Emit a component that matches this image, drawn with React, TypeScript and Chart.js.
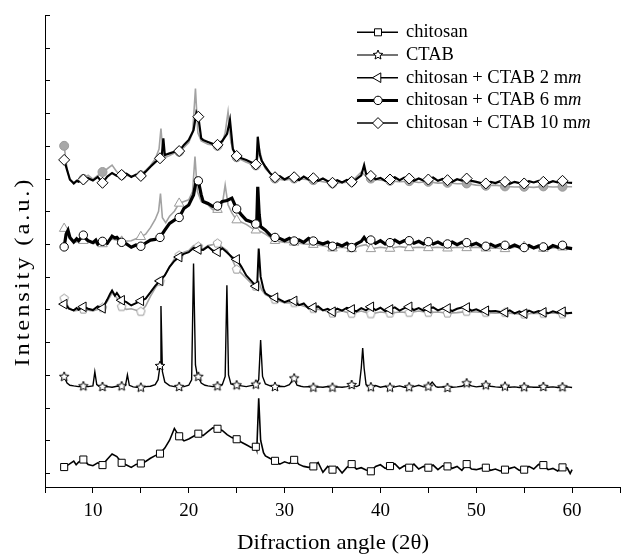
import React, { useEffect, useRef } from 'react';
import { Chart, registerables } from 'chart.js';

Chart.register(...registerables);

// ---- data: [2θ, intensity (offset, a.u.)] ----
const chitosanPts: [number, number][] = [
  [7,0.18],[7.5,0.26],[8,0.36],[8.25,0.25],[8.5,0.33],[9,0.41],[9.5,0.26],[10,0.22],[10.5,0.31],[11,0.24],[11.5,0.42],[12,0.58],[12.5,0.5],[13,0.31],[13.5,0.24],[14,0.17],[14.5,0.26],[15,0.29],[15.5,0.35],[16,0.45],[16.5,0.53],[17,0.59],[17.5,0.76],[18,1.0],[18.5,1.36],[19,1.12],[19.5,0.98],[20,1.04],[20.5,1.12],[21,1.2],[21.5,1.14],[22,1.26],[22.5,1.38],[23,1.35],[23.5,1.3],[24,1.17],[24.5,1.08],[25,1.03],[25.5,0.94],[26,0.86],[26.5,0.78],[27,0.8],[27.1,0.7],[27.3,2.28],[27.5,1.0],[27.8,0.62],[28,0.52],[28.5,0.44],[29,0.37],[29.5,0.27],[30,0.34],[30.5,0.29],[31,0.4],[31.5,0.26],[32,0.2],[32.5,0.17],[33,0.2],[33.5,0.32],[34,0.02],[34.5,0.2],[35,0.1],[35.5,0.18],[36,0.0],[36.5,0.17],[37,0.27],[37.5,0.12],[38,0.16],[38.5,0.09],[39,0.05],[39.5,0.2],[40,0.25],[40.5,0.14],[41,0.21],[41.5,0.28],[42,0.13],[42.5,0.22],[43,0.16],[43.5,0.27],[44,0.12],[44.5,0.2],[45,0.16],[45.5,0.24],[46,0.1],[46.5,0.22],[47,0.2],[47.5,0.14],[48,0.2],[48.5,0.08],[49,0.27],[49.5,0.12],[50,0.1],[50.5,0.14],[51,0.16],[51.5,0.08],[52,0.12],[52.5,0.06],[53,0.1],[53.5,0.14],[54,0.18],[54.5,0.08],[55,0.1],[55.5,0.2],[56,0.12],[56.5,0.26],[57,0.24],[57.5,0.1],[58,0.14],[58.5,0.06],[59,0.17],[59.5,0.15],[59.8,-0.02],[60,0.1]
];

const ctabPts: [number, number][] = [
  [7,2.94],[7.3,2.75],[7.6,2.68],[8,2.66],[8.5,2.64],[9,2.65],[9.5,2.64],[10,2.66],[10.2,3.09],[10.4,2.7],[10.7,2.64],[11,2.63],[11.5,2.64],[12,2.62],[12.5,2.65],[13,2.65],[13.4,2.68],[13.6,3.0],[13.8,2.68],[14.2,2.63],[14.6,2.62],[15,2.61],[15.5,2.64],[16,2.65],[16.5,2.7],[16.8,2.85],[17,3.27],[17.1,5.1],[17.25,3.1],[17.5,2.78],[18,2.67],[18.5,2.64],[19,2.63],[19.5,2.64],[20,2.68],[20.3,2.85],[20.5,6.4],[20.7,3.3],[20.85,3.05],[21,2.94],[21.3,2.75],[21.7,2.68],[22,2.66],[22.5,2.64],[23,2.65],[23.5,2.7],[23.8,2.95],[23.98,5.74],[24.15,3.0],[24.4,2.72],[25,2.68],[25.5,2.66],[26,2.64],[26.5,2.67],[27,2.7],[27.3,2.85],[27.5,4.06],[27.7,2.95],[28,2.72],[28.5,2.66],[29,2.63],[29.5,2.65],[30,2.64],[30.5,2.7],[31,2.89],[31.3,2.68],[31.7,2.65],[32,2.63],[32.5,2.64],[33,2.61],[33.5,2.63],[34,2.62],[34.5,2.64],[35,2.61],[35.5,2.63],[36,2.62],[36.5,2.64],[37,2.69],[37.5,2.64],[37.8,2.68],[38,3.2],[38.15,3.82],[38.3,3.2],[38.5,2.7],[38.8,2.64],[39,2.62],[39.5,2.67],[40,2.62],[40.5,2.65],[41,2.61],[41.5,2.63],[42,2.66],[42.5,2.62],[43,2.62],[43.5,2.64],[44,2.68],[44.5,2.63],[45,2.64],[45.4,2.78],[45.8,2.64],[46,2.62],[46.5,2.63],[47,2.6],[47.5,2.62],[48,2.63],[48.5,2.65],[49,2.74],[49.5,2.66],[50,2.63],[50.5,2.65],[51,2.68],[51.5,2.65],[52,2.63],[52.5,2.62],[53,2.64],[53.5,2.62],[54,2.63],[54.5,2.61],[55,2.62],[55.5,2.63],[56,2.62],[56.5,2.62],[57,2.63],[57.5,2.62],[58,2.63],[58.5,2.61],[59,2.62],[59.5,2.63],[60,2.61]
];

const ct2Pts: [number, number][] = [
  [7,5.16],[7.3,5.1],[7.5,5.02],[8,4.97],[8.3,5.04],[8.5,4.99],[9,5.08],[9.5,5.02],[10,4.98],[10.5,5.09],[11,5.03],[11.5,5.3],[11.8,5.48],[12,5.58],[12.3,5.42],[12.5,5.5],[13,5.28],[13.5,5.22],[14,5.12],[14.5,5.19],[15,5.26],[15.5,5.33],[16,5.52],[16.5,5.72],[17,5.87],[17.5,6.04],[18,6.3],[18.5,6.48],[19,6.6],[19.5,6.7],[20,6.75],[20.5,6.88],[21,6.83],[21.5,6.82],[22,6.92],[22.5,6.8],[23,6.76],[23.5,6.87],[24,6.74],[24.5,6.6],[25,6.53],[25.5,6.3],[26,6.04],[26.5,5.88],[27,5.71],[27.15,5.8],[27.3,6.86],[27.5,6.0],[27.8,5.62],[28,5.49],[28.5,5.4],[29,5.36],[29.5,5.3],[30,5.22],[30.5,5.28],[31,5.26],[31.5,5.13],[32,5.18],[32.5,5.03],[33,5.06],[33.5,5.09],[34,4.97],[34.5,5.02],[35,4.93],[35.5,5.02],[36,4.96],[36.5,5.05],[37,5.0],[37.5,4.94],[38,5.04],[38.5,4.97],[39,5.08],[39.5,4.98],[40,5.05],[40.5,4.95],[41,5.0],[41.5,5.06],[42,4.96],[42.5,5.04],[43,5.08],[43.5,4.98],[44,5.04],[44.5,4.96],[45,5.03],[45.5,5.06],[46,4.97],[46.5,5.03],[47,5.03],[47.5,4.95],[48,5.02],[48.5,5.06],[49,5.06],[49.5,4.96],[50,5.0],[50.5,4.94],[51,4.96],[51.5,4.94],[52,4.95],[52.5,4.92],[53,4.91],[53.5,4.97],[54,4.88],[54.5,4.94],[55,4.87],[55.5,4.96],[56,4.9],[56.5,4.95],[57,4.91],[57.5,4.88],[58,4.94],[58.5,4.9],[59,4.93],[59.5,4.88],[60,4.9]
];

const ct6Pts: [number, number][] = [
  [7,6.91],[7.2,7.3],[7.4,7.42],[7.6,7.2],[8,7.06],[8.3,7.16],[8.5,7.1],[9,7.27],[9.3,7.15],[9.5,7.1],[10,7.04],[10.3,7.12],[10.5,7.0],[11,7.08],[11.5,7.02],[12,7.24],[12.3,7.18],[12.5,7.2],[13,7.05],[13.5,7.0],[14,6.9],[14.5,6.97],[15,6.93],[15.5,7.03],[16,7.12],[16.5,7.14],[17,7.2],[17.5,7.42],[18,7.63],[18.5,7.73],[19,7.81],[19.5,8.09],[20,8.19],[20.5,8.5],[20.8,8.97],[21,8.93],[21.3,8.5],[21.5,8.3],[22,8.24],[22.5,8.15],[23,8.16],[23.5,8.3],[24,8.33],[24.5,8.4],[25,8.07],[25.5,7.89],[26,7.73],[26.5,7.68],[27,7.61],[27.1,7.7],[27.2,8.75],[27.35,7.9],[27.5,7.53],[28,7.42],[28.5,7.27],[29,7.2],[29.5,7.17],[30,7.1],[30.5,7.17],[31,7.09],[31.5,7.12],[32,7.05],[32.5,7.17],[33,7.09],[33.5,7.05],[34,7.0],[34.5,7.06],[35,6.93],[35.5,7.0],[36,6.94],[36.5,7.02],[37,6.89],[37.5,7.0],[38,7.08],[38.3,7.2],[38.6,7.08],[39,7.12],[39.5,7.02],[40,7.1],[40.5,7.0],[41,7.04],[41.5,7.12],[42,7.03],[42.5,7.1],[43,7.1],[43.5,7.02],[44,7.08],[44.5,7.0],[45,7.07],[45.5,7.0],[46,7.06],[46.5,6.98],[47,7.0],[47.5,7.06],[48,6.98],[48.5,7.05],[49,7.04],[49.5,6.97],[50,7.02],[50.5,6.94],[51,6.93],[51.5,6.99],[52,6.92],[52.5,6.98],[53,6.96],[53.5,6.9],[54,6.97],[54.5,6.9],[55,6.89],[55.5,6.95],[56,6.88],[56.5,6.94],[57,6.91],[57.5,6.86],[58,6.95],[58.5,6.9],[59,6.96],[59.5,6.88],[60,6.86]
];

const ct10Pts: [number, number][] = [
  [7,9.57],[7.3,9.26],[7.6,8.97],[8,8.85],[8.3,8.93],[8.5,8.9],[9,8.97],[9.5,9.01],[10,8.94],[10.5,9.05],[11,8.87],[11.5,9.06],[12,9.17],[12.5,9.08],[13,9.11],[13.5,9.15],[14,9.05],[14.5,9.12],[15,9.08],[15.5,9.21],[16,9.36],[16.5,9.5],[17,9.62],[17.2,9.75],[17.35,10.23],[17.5,9.72],[18,9.77],[18.5,9.82],[19,9.84],[19.5,10.03],[20,10.18],[20.5,10.48],[20.8,11.02],[21,10.89],[21.3,10.23],[21.5,10.18],[22,10.12],[22.5,10.06],[23,10.03],[23.5,10.15],[24,10.37],[24.3,10.79],[24.6,9.9],[25,9.69],[25.5,9.62],[26,9.57],[26.5,9.5],[27,9.43],[27.1,9.6],[27.2,10.28],[27.4,9.75],[27.6,9.55],[28,9.36],[28.5,9.16],[29,9.04],[29.5,9.07],[30,8.97],[30.5,9.05],[31,9.04],[31.5,8.95],[32,9.06],[32.5,8.97],[33,9.01],[33.5,8.93],[34,9.0],[34.5,8.92],[35,8.87],[35.5,8.95],[36,8.88],[36.5,8.96],[37,8.9],[37.5,8.98],[38,9.1],[38.3,9.41],[38.5,9.15],[39,9.08],[39.5,8.98],[40,9.02],[40.5,8.93],[41,8.97],[41.5,9.04],[42,8.95],[42.5,9.03],[43,9.0],[43.5,8.93],[44,9.0],[44.5,8.94],[45,8.97],[45.5,9.03],[46,8.93],[46.5,8.99],[47,8.95],[47.5,8.9],[48,8.98],[48.5,8.94],[49,9.0],[49.5,8.93],[50,8.9],[50.5,8.86],[51,8.85],[51.5,8.9],[52,8.86],[52.5,8.92],[53,8.9],[53.5,8.84],[54,8.9],[54.5,8.86],[55,8.85],[55.5,8.92],[56,8.88],[56.5,8.93],[57,8.9],[57.5,8.86],[58,8.92],[58.5,8.88],[59,8.93],[59.5,8.88],[60,8.87]
];

// grey overlay traces (not in legend)
const grey10Pts: [number, number][] = [
  [7,10.0],[7.3,9.3],[7.6,8.95],[8,8.88],[9,8.99],[9.5,9.1],[10,8.98],[11,9.2],[11.5,9.3],[12,9.41],[12.5,9.2],[13,9.1],[14,9.08],[15,9.1],[16,9.4],[16.5,9.6],[16.9,9.9],[17.1,10.53],[17.3,9.8],[17.6,9.65],[18,9.7],[18.5,9.78],[19,9.82],[19.5,9.95],[20,10.1],[20.4,10.4],[20.7,11.75],[20.95,10.4],[21.3,10.15],[22,10.05],[23,10.0],[23.5,10.1],[23.8,10.4],[24.1,11.04],[24.4,10.1],[24.8,9.75],[25,9.65],[26,9.5],[27,9.4],[27.4,9.87],[27.7,9.5],[28,9.3],[29,9.0],[30,8.95],[31,9.0],[32,8.98],[33,8.95],[34,8.9],[35,8.85],[36,8.87],[37,8.9],[37.5,9.05],[38,9.2],[38.4,9.1],[39,9.0],[40,8.95],[41,8.93],[42,8.9],[43,8.92],[44,8.88],[45,8.9],[46,8.86],[47,8.87],[48,8.84],[49,8.85],[50,8.8],[51,8.78],[52,8.8],[53,8.76],[54,8.74],[55,8.75],[56,8.73],[57,8.76],[58,8.74],[59,8.75],[60,8.75]
];

const grey6Pts: [number, number][] = [
  [7,7.47],[7.3,7.3],[7.6,7.15],[8,7.05],[9,7.1],[10,7.02],[11,7.0],[12,7.15],[13,7.08],[14,7.1],[15,7.22],[15.5,7.3],[16,7.5],[16.5,7.75],[16.85,8.0],[17.05,8.54],[17.25,7.8],[17.6,7.65],[18,7.85],[18.5,8.0],[19,8.24],[19.5,8.3],[20,8.35],[20.4,8.6],[20.65,9.67],[20.9,8.6],[21.3,8.3],[22,8.2],[22.5,8.05],[23,8.05],[23.5,8.2],[23.8,8.8],[24.1,8.2],[24.5,7.95],[25,7.73],[26,7.6],[26.5,7.5],[27,7.42],[27.5,7.38],[28,7.3],[29,7.1],[30,7.05],[31,7.05],[32,7.0],[33,6.98],[34,6.95],[35,6.87],[36,6.9],[37,6.85],[38,6.95],[38.5,6.98],[39,6.85],[40,6.9],[41,6.86],[42,6.92],[43,6.88],[44,6.9],[45,6.88],[46,6.9],[47,6.87],[48,6.9],[49,6.88],[50,6.9],[51,6.87],[52,6.88],[53,6.85],[54,6.9],[55,6.92],[56,6.88],[57,6.86],[58,6.88],[59,6.9],[60,6.88]
];

const grey2Pts: [number, number][] = [
  [7,5.33],[7.5,5.05],[8,4.95],[9,5.0],[10,4.95],[10.5,5.0],[11,5.05],[11.5,5.25],[12,5.5],[12.5,5.35],[13,5.08],[13.5,5.0],[14,5.02],[15,4.93],[15.5,5.1],[16,5.4],[16.5,5.65],[17,5.85],[17.5,6.05],[18,6.3],[18.5,6.55],[19,6.65],[19.5,6.75],[20,6.8],[20.5,6.95],[21,6.92],[21.5,6.85],[22,6.95],[22.5,6.98],[23,7.02],[23.5,6.9],[24,6.8],[24.5,6.55],[25,6.22],[25.5,6.1],[26,5.95],[26.5,5.8],[27,5.7],[27.3,5.85],[27.6,5.6],[28,5.45],[29,5.3],[30,5.2],[31,5.2],[32,5.1],[33,5.02],[34,4.98],[35,4.88],[36,4.95],[37,4.87],[38,4.95],[39,4.86],[40,4.92],[41,4.88],[42,4.92],[43,4.9],[44,4.95],[45,4.9],[46,4.92],[47,4.88],[48,4.9],[49,4.93],[50,4.92],[51,4.9],[52,4.88],[53,4.9],[54,4.87],[55,4.85],[56,4.88],[57,4.87],[58,4.89],[59,4.86],[60,4.88]
];

const legendLabels = ['chitosan', 'CTAB', 'chitosan + CTAB 2 m', 'chitosan + CTAB 6 m', 'chitosan + CTAB 10 m'];
const legendItalicSuffix = ['', '', 'm', 'm', 'm'];
const yTickValues = [0, 1, 2, 3, 4, 5, 6, 7, 8, 9, 10, 11, 12, 13, 14];
const xTitle = 'Difraction angle (2θ)';
const yTitle = 'Intensity (a.u.)';

const SERIF = '"Liberation Serif", "Times New Roman", Times, serif';

function polyCanvas(n: number, size: number, stroke: string, fill: string, inner: number | null) {
  const c = document.createElement('canvas');
  c.width = size; c.height = size;
  const ctx = c.getContext('2d')!;
  const cx = size / 2, cy = size / 2, R = size / 2 - 1;
  ctx.beginPath();
  const count = inner ? n * 2 : n;
  for (let i = 0; i < count; i++) {
    const a = -Math.PI / 2 + (i * 2 * Math.PI) / count;
    const r = inner && i % 2 === 1 ? R * inner : R;
    const px = cx + r * Math.cos(a), py = cy + r * Math.sin(a);
    if (i === 0) ctx.moveTo(px, py); else ctx.lineTo(px, py);
  }
  ctx.closePath();
  ctx.fillStyle = fill; ctx.fill();
  ctx.lineWidth = 1; ctx.strokeStyle = stroke; ctx.stroke();
  return c;
}

const isMarker = (x: number) => Number.isInteger(x) && Math.abs(x % 2) === 1;
const toXY = (pts: [number, number][]) => pts.map(([x, y]) => ({ x, y }));

export default function App() {
  const ref = useRef<HTMLCanvasElement | null>(null);

  useEffect(() => {
    if (!ref.current) return;
    const star = polyCanvas(5, 12, '#000', '#fff', 0.45);
    const pent = polyCanvas(5, 11, '#9a9a9a', '#fff', null);

    const rad = (r: number) => (c: any) => (c.raw && isMarker(c.raw.x) ? r : 0);

    const black = (label: string, pts: [number, number][], style: any, r: number, bw: number, rot = 0) => ({
      label,
      data: toXY(pts),
      borderColor: '#000',
      borderWidth: bw,
      pointStyle: style,
      pointRadius: rad(r),
      pointHoverRadius: 0,
      pointRotation: rot,
      pointBackgroundColor: '#fff',
      pointBorderColor: '#000',
      pointBorderWidth: 1,
      tension: 0,
    });
    const grey = (label: string, pts: [number, number][], style: any, r: number, fill: string) => ({
      label,
      data: toXY(pts),
      borderColor: '#a2a2a2',
      borderWidth: 1.6,
      pointStyle: style,
      pointRadius: rad(r),
      pointHoverRadius: 0,
      pointBackgroundColor: fill,
      pointBorderColor: '#9a9a9a',
      pointBorderWidth: 1,
      tension: 0,
    });

    const datasets: any[] = [
      black(legendLabels[4], ct10Pts, 'rectRot', 5.5, 2.2),
      black(legendLabels[3], ct6Pts, 'circle', 4.2, 3.2),
      black(legendLabels[2], ct2Pts, 'triangle', 5.5, 2, -90),
      black(legendLabels[1], ctabPts, star, 5, 1.4),
      black(legendLabels[0], chitosanPts, 'rect', 5, 1.6),
      grey('grey 10', grey10Pts, 'circle', 4.5, '#a8a8a8'),
      grey('grey 6', grey6Pts, 'triangle', 5.5, '#fff'),
      grey('grey 2', grey2Pts, pent, 5, '#fff'),
    ];

    const overlay = {
      id: 'overlay',
      afterDraw(chart: any) {
        const ctx = chart.ctx as CanvasRenderingContext2D;
        const ys = chart.scales.y;
        const area = chart.chartArea;
        ctx.save();
        // inward y ticks
        ctx.strokeStyle = '#000';
        ctx.lineWidth = 1;
        for (const v of yTickValues) {
          const py = Math.round(ys.getPixelForValue(v)) + 0.5;
          ctx.beginPath();
          ctx.moveTo(area.left, py);
          ctx.lineTo(area.left + 5, py);
          ctx.stroke();
        }
        ctx.fillStyle = '#000';
        // x title
        ctx.font = `21px ${SERIF}`;
        ctx.textAlign = 'center';
        ctx.textBaseline = 'alphabetic';
        let w = ctx.measureText(xTitle).width;
        ctx.save();
        ctx.translate(333, 549);
        ctx.scale(192 / w, 1);
        ctx.fillText(xTitle, 0, 0);
        ctx.restore();
        // y title (wide, spaced)
        ctx.save();
        ctx.font = `22px ${SERIF}`;
        (ctx as any).letterSpacing = '0px';
        w = ctx.measureText(yTitle).width;
        const sx = 1.12;
        const ls = (190 / sx - w) / yTitle.length;
        (ctx as any).letterSpacing = `${ls}px`;
        ctx.translate(29, 273);
        ctx.rotate(-Math.PI / 2);
        ctx.scale(sx, 1);
        ctx.textAlign = 'left';
        ctx.fillText(yTitle, -(w + ls * (yTitle.length - 1)) / 2, 0);
        ctx.restore();

        // legend
        for (let i = 0; i < 5; i++) {
          const y = 32.3 + i * 22.7;
          ctx.strokeStyle = i === 1 ? '#444' : '#000';
          ctx.lineWidth = i === 3 ? 3 : 1.5;
          ctx.beginPath();
          ctx.moveTo(357, y);
          ctx.lineTo(398, y);
          ctx.stroke();
          const mx = 378;
          ctx.lineWidth = 1;
          ctx.strokeStyle = '#000';
          ctx.fillStyle = '#fff';
          ctx.beginPath();
          if (i === 0) {
            ctx.rect(mx - 3.5, y - 3.5, 7, 7);
            ctx.fill(); ctx.stroke();
          } else if (i === 1) {
            ctx.drawImage(star, mx - 6, y - 6);
          } else if (i === 2) {
            ctx.moveTo(mx - 5.5, y);
            ctx.lineTo(mx + 2.8, y - 4.8);
            ctx.lineTo(mx + 2.8, y + 4.8);
            ctx.closePath();
            ctx.fill(); ctx.stroke();
          } else if (i === 3) {
            ctx.arc(mx, y, 4.2, 0, Math.PI * 2);
            ctx.fill(); ctx.stroke();
          } else {
            ctx.moveTo(mx - 5.5, y);
            ctx.lineTo(mx, y - 5.5);
            ctx.lineTo(mx + 5.5, y);
            ctx.lineTo(mx, y + 5.5);
            ctx.closePath();
            ctx.fill(); ctx.stroke();
          }
          ctx.fillStyle = '#000';
          ctx.textAlign = 'left';
          ctx.textBaseline = 'alphabetic';
          ctx.font = `18.5px ${SERIF}`;
          const label = legendLabels[i];
          ctx.fillText(label, 406, y + 5);
          if (legendItalicSuffix[i]) {
            const lw = ctx.measureText(label).width;
            ctx.font = `italic 18.5px ${SERIF}`;
            ctx.fillText(legendItalicSuffix[i], 406 + lw, y + 5);
          }
        }
        ctx.restore();
      },
    };

    const chart = new Chart(ref.current, {
      type: 'line',
      data: { datasets },
      options: {
        responsive: false,
        animation: false,
        devicePixelRatio: 1,
        layout: { padding: { top: 15, right: 1, left: 0, bottom: 0 } },
        plugins: { legend: { display: false }, tooltip: { enabled: false }, title: { display: false } },
        elements: { line: { fill: false } },
        scales: {
          x: {
            type: 'linear',
            min: 5,
            max: 65,
            afterFit: (s: any) => { s.height = 67; },
            ticks: {
              stepSize: 5,
              autoSkip: false,
              maxRotation: 0,
              color: '#000',
              padding: 7,
              font: { family: SERIF, size: 19 },
              callback: (v: any) => (Number(v) % 10 === 0 ? String(v) : ''),
            },
            grid: { display: true, drawOnChartArea: false, drawTicks: true, tickLength: 6, color: '#000', lineWidth: 1 },
            border: { display: true, color: '#000', width: 1 },
          },
          y: {
            type: 'linear',
            min: -0.43,
            max: 14,
            afterFit: (s: any) => { s.width = 45; },
            ticks: { display: false },
            grid: { display: false, drawTicks: false },
            border: { display: true, color: '#000', width: 1 },
          },
        },
      },
      plugins: [overlay],
    } as any);

    return () => chart.destroy();
  }, []);

  return (
    <div style={{ position: 'absolute', left: 0, top: 0, width: 627, height: 554, background: '#fff' }}>
      <canvas ref={ref} width={627} height={554} style={{ display: 'block', width: 627, height: 554 }} />
    </div>
  );
}
